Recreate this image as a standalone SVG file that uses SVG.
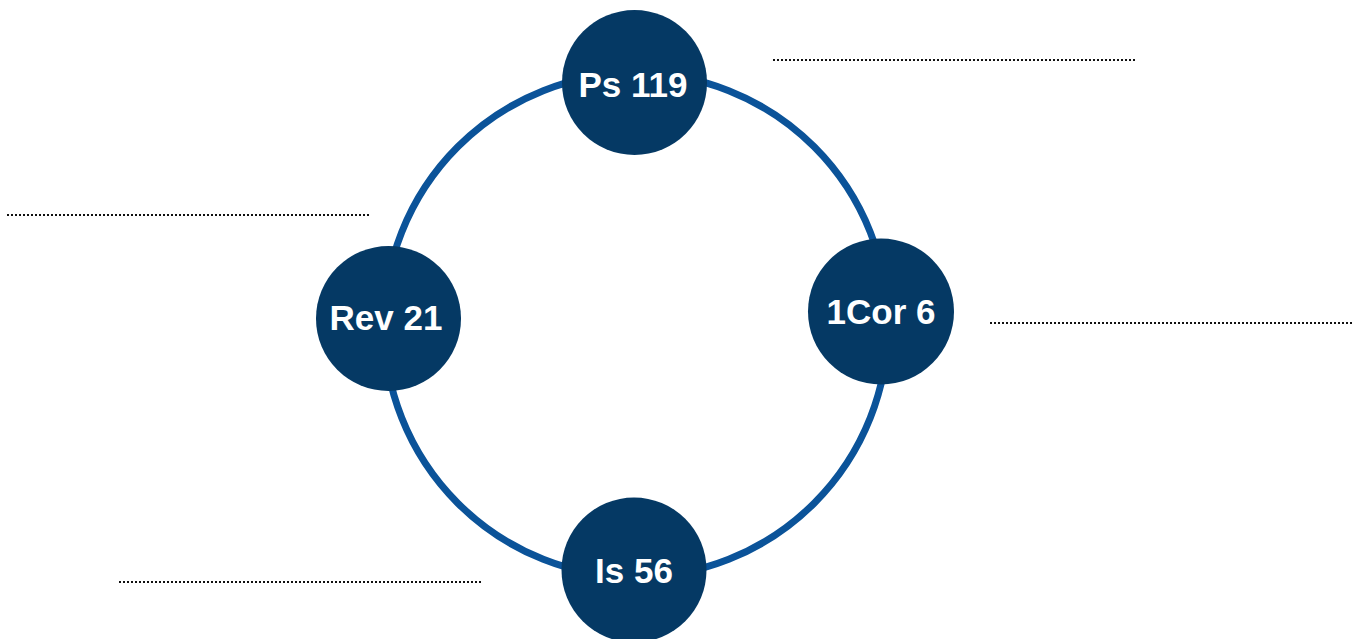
<svg xmlns="http://www.w3.org/2000/svg" width="1362" height="639" viewBox="0 0 1362 639">
<style>
.ring{fill:none;stroke:#0b5399;stroke-width:7}
.node{fill:#053964}
.lbl{fill:#ffffff;font-family:"Liberation Sans",Arial,sans-serif;font-weight:bold;font-size:35px;text-anchor:middle}
.dot{stroke:#111111;stroke-width:2;stroke-dasharray:2 2;fill:none}
</style>
<rect width="1362" height="639" fill="#ffffff"/>
<g id="connectors">
<circle class="ring" cx="636" cy="325" r="252"/>
<line class="dot" x1="773" y1="60" x2="1136" y2="60"/>
<line class="dot" x1="7" y1="215" x2="370" y2="215"/>
<line class="dot" x1="990" y1="323" x2="1353" y2="323"/>
<line class="dot" x1="119" y1="582" x2="482" y2="582"/>
</g>
<g id="node-ps119">
<circle class="node" cx="634.5" cy="82.5" r="72.5"/>
<text class="lbl" x="633" y="97">Ps 119</text>
</g>
<g id="node-rev21">
<circle class="node" cx="388.5" cy="318.5" r="72.5"/>
<text class="lbl" x="386" y="330">Rev 21</text>
</g>
<g id="node-1cor6">
<circle class="node" cx="881" cy="311.5" r="73"/>
<text class="lbl" x="881" y="324">1Cor 6</text>
</g>
<g id="node-is56">
<circle class="node" cx="634" cy="570" r="72.5"/>
<text class="lbl" x="634" y="583">Is 56</text>
</g>
</svg>
